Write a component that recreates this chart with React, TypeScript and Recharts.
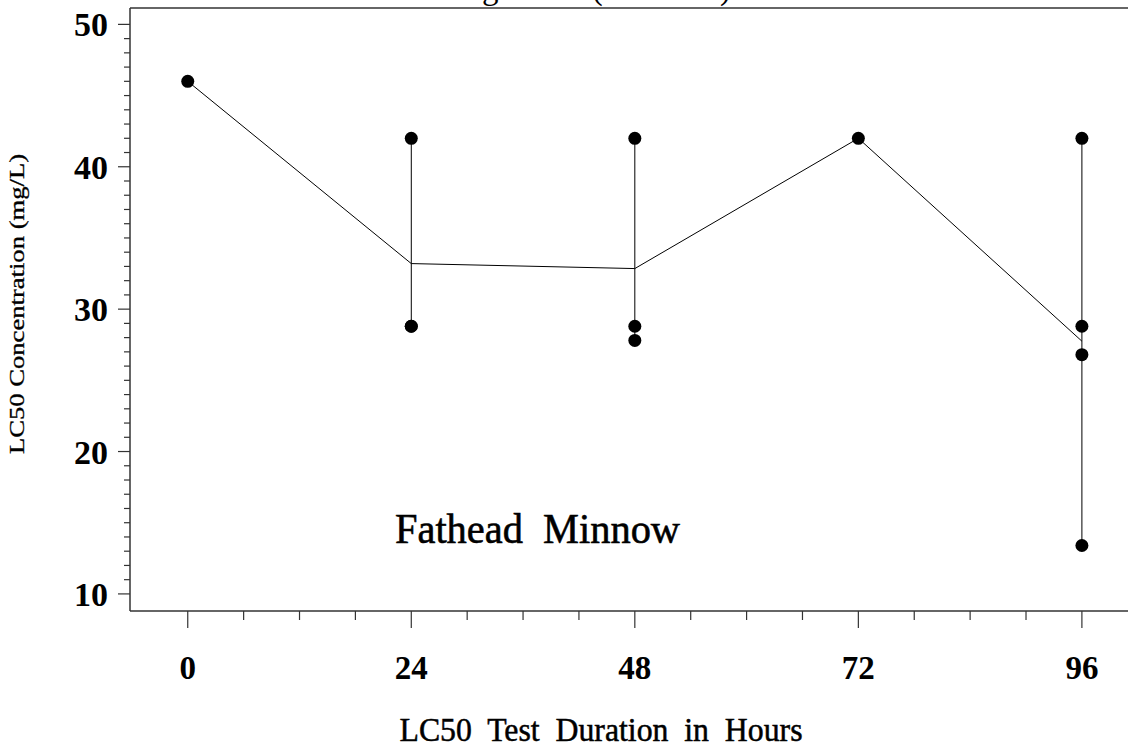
import { ScatterChart, Scatter, XAxis, YAxis, ReferenceLine } from "recharts";

// test durations (hours) and the LC50 results reported at each one (mg/L)
const HOURS = [0, 24, 48, 72, 96];
const LC50_AT_0 = [46];
const LC50_AT_24 = [42, 28.8, 28.8];
const LC50_AT_48 = [42, 28.8, 27.8];
const LC50_AT_72 = [42];
const LC50_AT_96 = [42, 28.8, 26.8, 13.4];
const SAMPLES = [LC50_AT_0, LC50_AT_24, LC50_AT_48, LC50_AT_72, LC50_AT_96];

// mean LC50 per duration
const MEAN_LC50 = [46, 33.2, 32.85, 42, 27.75];

const X_MAJOR = [0, 24, 48, 72, 96];
const X_TICKS = [0, 6, 12, 18, 24, 30, 36, 42, 48, 54, 60, 66, 72, 78, 84, 90, 96];
const Y_MAJOR = [10, 20, 30, 40, 50];
const Y_TICKS = Array.from({ length: 41 }, (_, i) => 10 + i);

const X_DOMAIN: [number, number] = [-6.2, 100.95];
const Y_DOMAIN: [number, number] = [8.8, 51.15];

const FONT = '"Liberation Serif", "Times New Roman", serif';
const AXIS_COLOR = "#333";

const points = HOURS.flatMap((h, i) => SAMPLES[i].map((v) => ({ hour: h, value: v })));
const meanLine = HOURS.map((h, i) => ({ hour: h, value: MEAN_LC50[i] }));
const ranges = HOURS.map((h, i) => ({ hour: h, vals: SAMPLES[i] }))
  .filter((r) => r.vals.length > 1)
  .map((r) => [
    { hour: r.hour, value: Math.max(...r.vals) },
    { hour: r.hour, value: Math.min(...r.vals) },
  ]);

function XTick({ x, y, payload }: { x?: number; y?: number; payload?: { value: number } }) {
  const v = payload?.value ?? 0;
  const major = X_MAJOR.includes(v);
  return (
    <g>
      <line x1={x} x2={x} y1={y} y2={(y ?? 0) + (major ? 17 : 9)} stroke={AXIS_COLOR} strokeWidth={1.2} />
      {major && (
        <text x={x} y={(y ?? 0) + 68} textAnchor="middle" fontFamily={FONT} fontWeight="bold" fontSize={33} fill="#000">
          {v}
        </text>
      )}
    </g>
  );
}

function YTick({ x, y, payload }: { x?: number; y?: number; payload?: { value: number } }) {
  const v = payload?.value ?? 0;
  const major = Y_MAJOR.includes(v);
  return (
    <g>
      <line x1={(x ?? 0) - (major ? 12 : 6)} x2={x} y1={y} y2={y} stroke={AXIS_COLOR} strokeWidth={1.2} />
      {major && (
        <text x={(x ?? 0) - 22} y={(y ?? 0) + 12} textAnchor="end" fontFamily={FONT} fontWeight="bold" fontSize={34} fill="#000">
          {v}
        </text>
      )}
    </g>
  );
}

const noDot = () => <g />;
const blackDot = (p: { cx?: number; cy?: number }) => <circle cx={p.cx} cy={p.cy} r={6.5} fill="#000" />;

export default function App() {
  return (
    <div style={{ position: "absolute", left: 0, top: 0, width: 1128, height: 755, background: "#fff" }}>
      <ScatterChart width={1128} height={755} margin={{ top: 8, right: 0, bottom: 0, left: 0 }}>
        <XAxis
          type="number"
          dataKey="hour"
          domain={X_DOMAIN}
          ticks={X_TICKS}
          interval={0}
          allowDataOverflow
          height={144}
          tickSize={0}
          tickMargin={0}
          tickLine={false}
          axisLine={{ stroke: AXIS_COLOR, strokeWidth: 1.5 }}
          tick={<XTick />}
        />
        <YAxis
          type="number"
          dataKey="value"
          domain={Y_DOMAIN}
          ticks={Y_TICKS}
          interval={0}
          allowDataOverflow
          width={130}
          tickSize={0}
          tickMargin={0}
          tickLine={false}
          axisLine={{ stroke: AXIS_COLOR, strokeWidth: 1.5 }}
          tick={<YTick />}
        />
        <ReferenceLine y={Y_DOMAIN[1]} stroke={AXIS_COLOR} strokeWidth={1.5} ifOverflow="visible" />

        {ranges.map((seg, i) => (
          <Scatter
            key={i}
            data={seg}
            line={{ stroke: "#000", strokeWidth: 1 }}
            shape={noDot}
            isAnimationActive={false}
          />
        ))}
        <Scatter data={meanLine} line={{ stroke: "#000", strokeWidth: 1 }} shape={noDot} isAnimationActive={false} />
        <Scatter data={points} shape={blackDot} isAnimationActive={false} />

        {/* title sits mostly above the frame, only its descenders show */}
        <text x={731} y={-1} textAnchor="end" fontFamily={FONT} fontSize={33} fill="#000">
          LC50 Range Data (All Tests)
        </text>
        <text
          x={395}
          y={543}
          fontFamily={FONT}
          fontSize={42}
          fill="#000"
          stroke="#000"
          strokeWidth={0.6}
          textLength={285}
          lengthAdjust="spacingAndGlyphs"
          style={{ whiteSpace: "pre" }}
        >
          Fathead  Minnow
        </text>
        <text
          x={601}
          y={741}
          textAnchor="middle"
          fontFamily={FONT}
          fontSize={33}
          fill="#000"
          stroke="#000"
          strokeWidth={0.5}
          textLength={403}
          lengthAdjust="spacingAndGlyphs"
          style={{ whiteSpace: "pre" }}
        >
          LC50  Test  Duration  in  Hours
        </text>
        <text
          transform="translate(24,304) rotate(-90)"
          textAnchor="middle"
          fontFamily={FONT}
          fontSize={20}
          fill="#000"
          stroke="#000"
          strokeWidth={0.3}
          textLength={300}
          lengthAdjust="spacingAndGlyphs"
          style={{ whiteSpace: "pre" }}
        >
          LC50 Concentration (mg/L)
        </text>
      </ScatterChart>
    </div>
  );
}
